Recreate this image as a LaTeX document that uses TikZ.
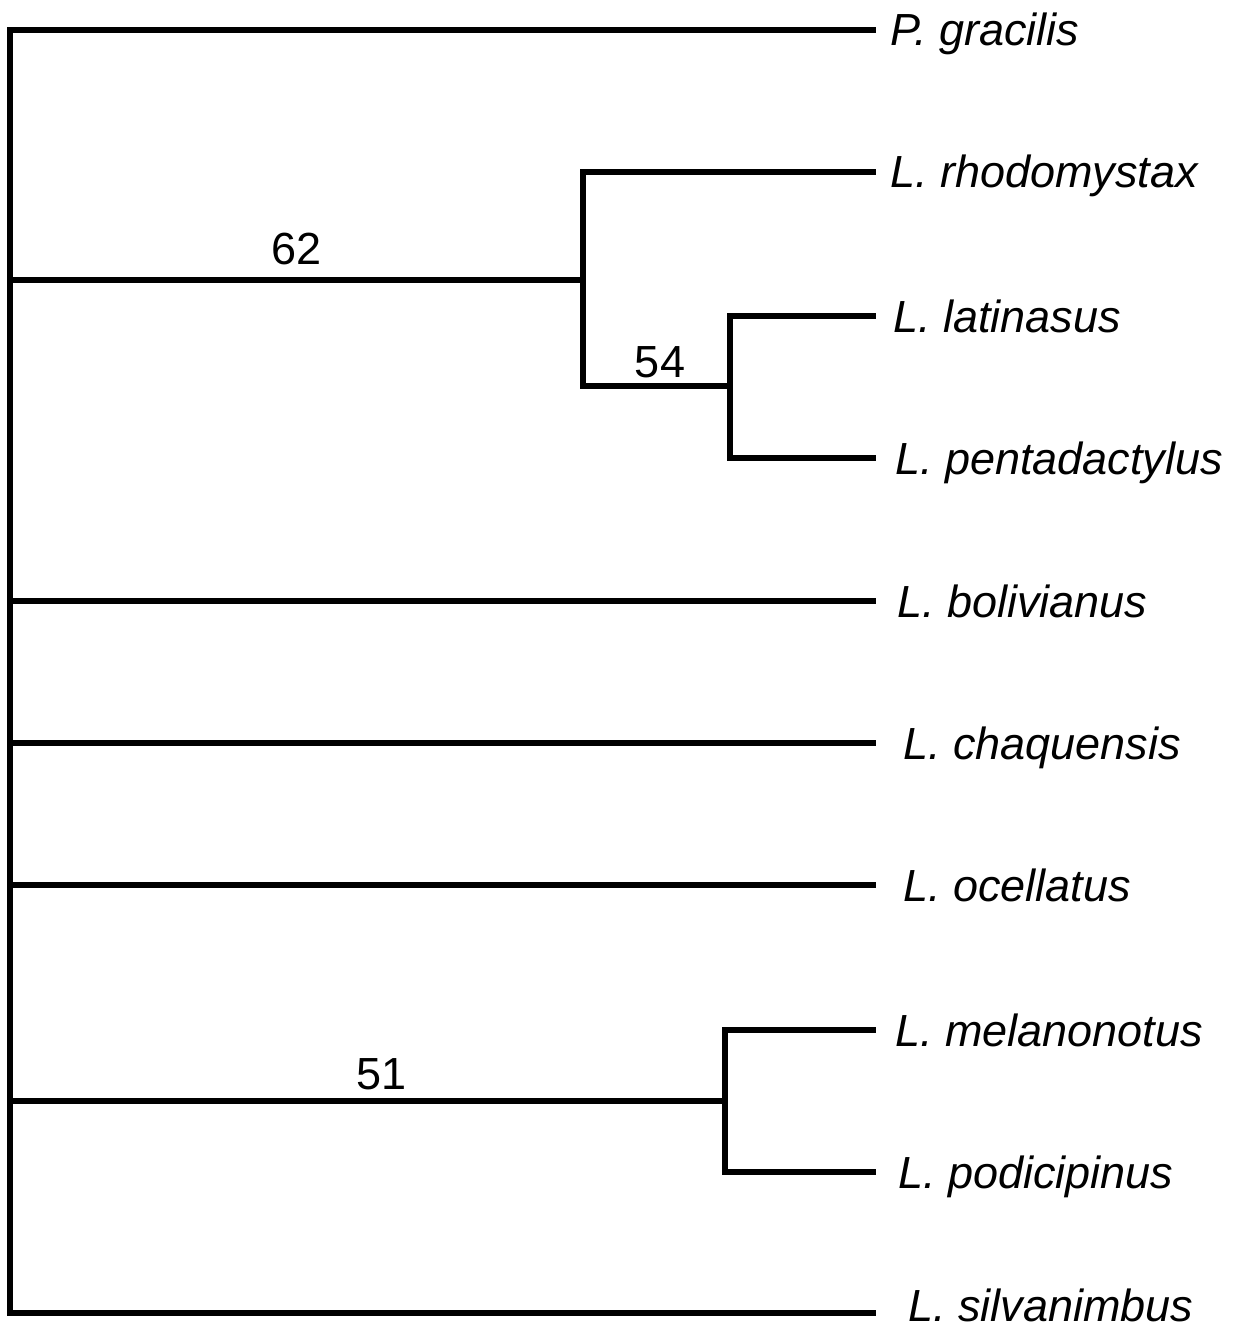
\documentclass[tikz,border=0pt]{standalone}
\usepackage{fontspec}
\setmainfont{Liberation Sans}
\begin{document}
\begin{tikzpicture}[x=1pt,y=-1pt,
  br/.style={line width=5.5pt,line join=miter,line cap=rect},
  taxon/.style={anchor=base west,inner sep=0pt,font=\fontsize{45}{54}\selectfont\itshape},
  support/.style={anchor=base,inner sep=0pt,font=\fontsize{45}{54}\selectfont}]
\useasboundingbox[fill=white] (0,0) rectangle (1239,1332);
% root
\coordinate (rTop) at (10,30);
\coordinate (rBot) at (10,1313);
% tips
\coordinate (tPg) at (873,30);
\coordinate (tRh) at (873,172);
\coordinate (tLa) at (873,316);
\coordinate (tPe) at (873,458);
\coordinate (tBo) at (873,601);
\coordinate (tCh) at (873,743);
\coordinate (tOc) at (873,885);
\coordinate (tMe) at (873,1030);
\coordinate (tPo) at (873,1172);
\coordinate (tSi) at (873,1313);
% internal
\coordinate (b62) at (10,280);
\coordinate (n62) at (583,280);
\coordinate (n62t) at (583,172);
\coordinate (n62b) at (583,386);
\coordinate (n54) at (730,386);
\coordinate (n54t) at (730,316);
\coordinate (n54b) at (730,458);
\coordinate (bBo) at (10,601);
\coordinate (bCh) at (10,743);
\coordinate (bOc) at (10,885);
\coordinate (b51) at (10,1101);
\coordinate (n51) at (725,1101);
\coordinate (n51t) at (725,1030);
\coordinate (n51b) at (725,1172);
% branches
\draw[br] (tPg) -- (rTop) -- (rBot) -- (tSi);
\draw[br] (b62) -- (n62);
\draw[br] (tRh) -- (n62t) -- (n62b) -- (n54);
\draw[br] (tLa) -- (n54t) -- (n54b) -- (tPe);
\draw[br] (bBo) -- (tBo);
\draw[br] (bCh) -- (tCh);
\draw[br] (bOc) -- (tOc);
\draw[br] (b51) -- (n51);
\draw[br] (tMe) -- (n51t) -- (n51b) -- (tPo);
% labels
\node[taxon] (lPg) at (890,46) {P. gracilis};
\node[taxon] (lRh) at (890,188) {L. rhodomystax};
\node[taxon] (lLa) at (893,332) {L. latinasus};
\node[taxon] (lPe) at (895,474) {L. pentadactylus};
\node[taxon] (lBo) at (897,617) {L. bolivianus};
\node[taxon] (lCh) at (903,759) {L. chaquensis};
\node[taxon] (lOc) at (903,901) {L. ocellatus};
\node[taxon] (lMe) at (895,1046) {L. melanonotus};
\node[taxon] (lPo) at (898,1188) {L. podicipinus};
\node[taxon] (lSi) at (908,1321) {L. silvanimbus};
\node[support] (s62) at (297,264) {62};
\node[support] (s54) at (660,377) {54};
\node[support] (s51) at (382,1089) {51};
\end{tikzpicture}
\end{document}
